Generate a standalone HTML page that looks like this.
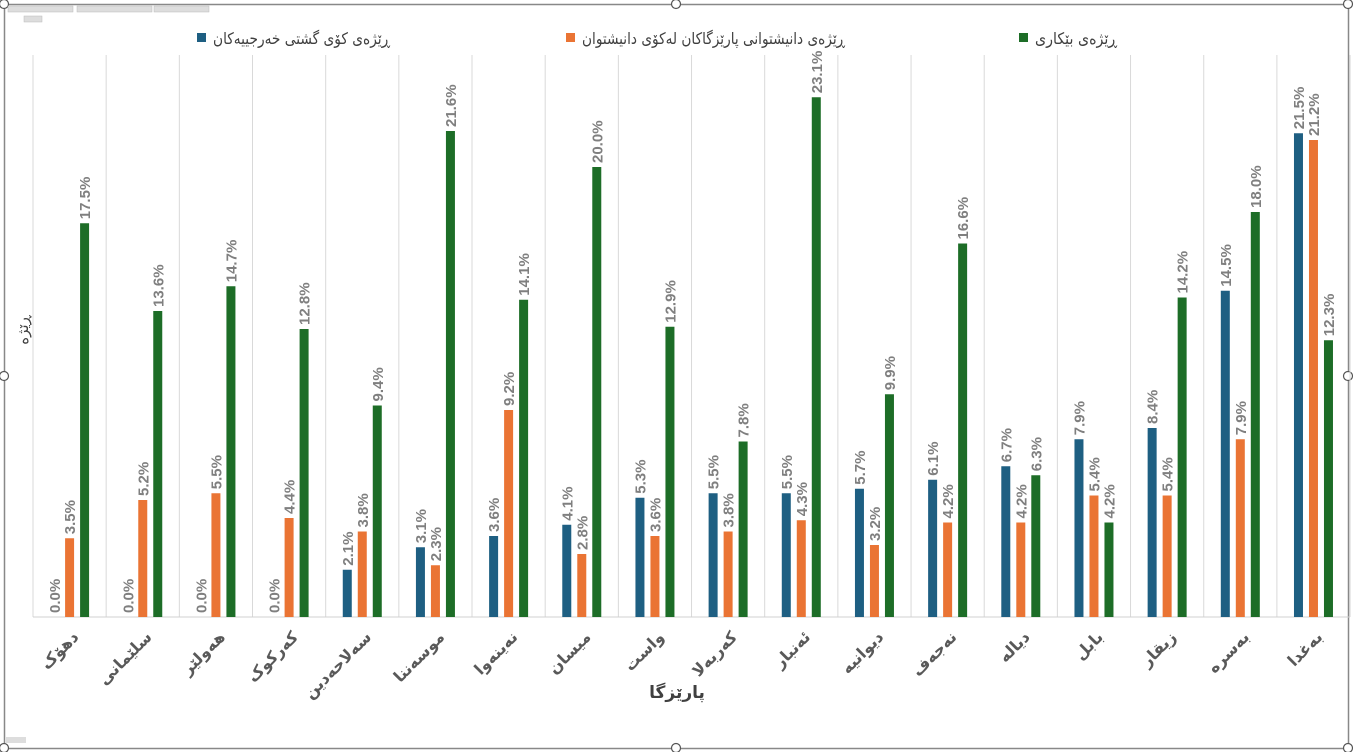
<!DOCTYPE html>
<html><head><meta charset="utf-8">
<style>
body{margin:0;background:#fff;width:1353px;height:752px;overflow:hidden;font-family:"Liberation Sans","DejaVu Sans",sans-serif;}
svg{position:absolute;left:0;top:0}
</style></head><body>
<svg id="s" width="1353" height="752" xmlns="http://www.w3.org/2000/svg"></svg>
<script>
const s=document.getElementById('s');
let h='';
h+='<rect x="4.5" y="4.5" width="1344" height="744" fill="none" stroke="#888" stroke-width="1.5"/>';
[[4,4],[676,4],[1348,4],[4,376],[1348,376],[4,748],[676,748],[1348,748]].forEach(p=>h+=`<circle cx="${p[0]}" cy="${p[1]}" r="4.5" fill="#fff" stroke="#555" stroke-width="1.2"/>`);
[[8,6,65],[77,6,75],[154,6,55],[24,16,18]].forEach(b=>h+=`<rect x="${b[0]}" y="${b[1]}" width="${b[2]}" height="6" fill="#ddd" stroke="#bbb" stroke-width="0.5"/>`);
h+='<rect x="6" y="737" width="20" height="6" fill="#ddd"/>';
const L=33,W=73.17,base=617,k=22.5;
for(let i=0;i<=18;i++){const x=L+i*W;h+=`<line x1="${x}" y1="55" x2="${x}" y2="${base}" stroke="#d9d9d9"/>`;}
h+=`<line x1="${L}" y1="${base}" x2="1350" y2="${base}" stroke="#d0d0d0"/>`;
const names=["دهۆک","سلێمانی","هەولێر","کەرکوک","سەلاحەدین","موسەننا","نەینەوا","میسان","واست","کەربەلا","ئەنبار","دیوانیە","نەجەف","دیالە","بابل","زیقار","بەسرە","بەغدا"];
const d=[[0,3.5,17.5],[0,5.2,13.6],[0,5.5,14.7],[0,4.4,12.8],[2.1,3.8,9.4],[3.1,2.3,21.6],[3.6,9.2,14.1],[4.1,2.8,20.0],[5.3,3.6,12.9],[5.5,3.8,7.8],[5.5,4.3,23.1],[5.7,3.2,9.9],[6.1,4.2,16.6],[6.7,4.2,6.3],[7.9,5.4,4.2],[8.4,5.4,14.2],[14.5,7.9,18.0],[21.5,21.2,12.3]];
const col=["#1e5f82","#ea7434","#1d6d27"];
d.forEach((r,i)=>{const c=L+i*W+W/2;
 r.forEach((v,j)=>{const cx=c+(j-1)*15,top=base-v*k;
  if(v>0)h+=`<rect x="${cx-4.5}" y="${top}" width="9" height="${v*k}" fill="${col[j]}"/>`;
  h+=`<text transform="translate(${cx+5.5},${top-4}) rotate(-90)" font-size="15" font-weight="bold" fill="#7f7f7f">${v.toFixed(1)}%</text>`;
 });
 h+=`<text transform="translate(${c+10},${638}) rotate(-45)" text-anchor="end" font-size="16" font-weight="bold" fill="#595959" font-family="DejaVu Sans,sans-serif">${names[i]}</text>`;
});
h+='<text x="677" y="698" text-anchor="middle" font-size="17" font-weight="bold" fill="#404040" font-family="DejaVu Sans,sans-serif">پارێزگا</text>';
h+='<text transform="translate(28,330) rotate(-90)" text-anchor="middle" font-size="15" fill="#404040" font-family="DejaVu Sans,sans-serif">ڕێژە</text>';
const lg=[[197,390,"ڕێژەی کۆی گشتی خەرجییەکان",0],[566,845,"ڕێژەی دانیشتوانی پارێزگاکان لەکۆی دانیشتوان",1],[1019,1117,"ڕێژەی بێکاری",2]];
lg.forEach(g=>{h+=`<rect x="${g[0]}" y="33" width="9" height="9" fill="${col[g[3]]}"/>`;
 h+=`<text x="${(g[0]+16+g[1])/2}" y="44" text-anchor="middle" font-size="16" fill="#404040" font-family="DejaVu Sans,sans-serif" textLength="${g[1]-g[0]-16}" lengthAdjust="spacingAndGlyphs">${g[2]}</text>`;});
s.innerHTML=h;
</script>
</body></html>
